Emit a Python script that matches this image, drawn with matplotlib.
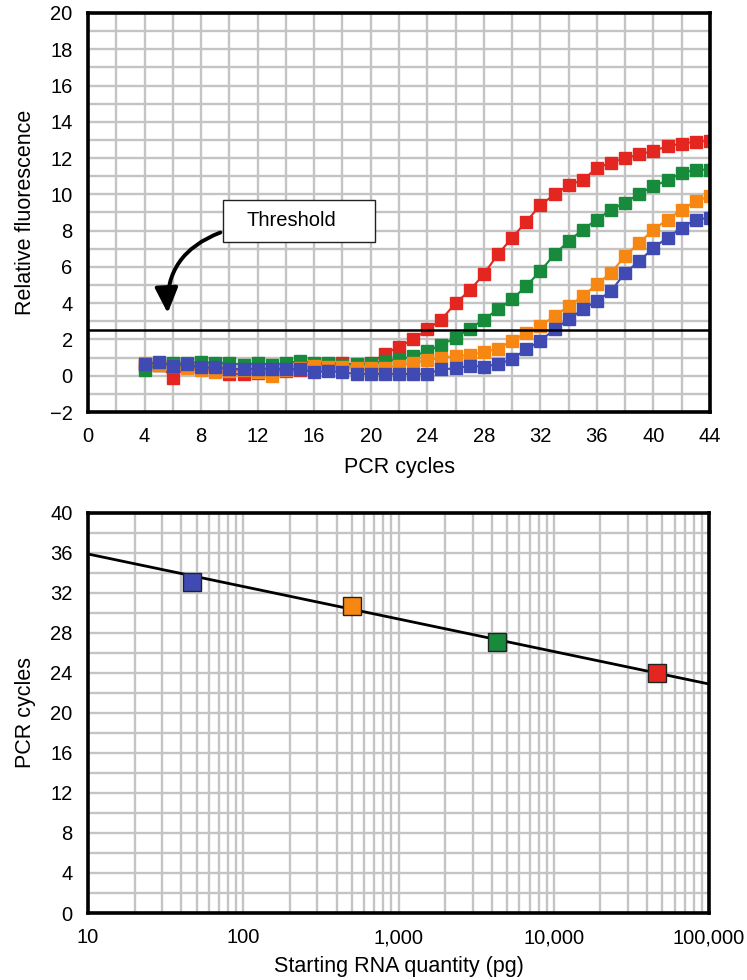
import matplotlib
matplotlib.use("Agg")
import matplotlib.pyplot as plt
import numpy as np
from matplotlib.patches import FancyArrowPatch, Rectangle
from matplotlib.ticker import MultipleLocator, FixedLocator, NullFormatter

plt.rcParams['font.family'] = ['Liberation Sans', 'DejaVu Sans']

# ---------------- data ----------------
cycles = list(range(4, 45))
red = [0.55, 0.6, -0.1, 0.5, 0.4, 0.3, 0.1, 0.1, 0.15, 0.2, 0.25, 0.3, 0.6, 0.65, 0.7, 0.6, 0.7,
       1.2, 1.6, 2.0, 2.55, 3.1, 4.0, 4.7, 5.6, 6.7, 7.6, 8.5, 9.4, 10.0, 10.5, 10.8, 11.45,
       11.75, 12.0, 12.2, 12.4, 12.65, 12.8, 12.9, 12.95]
green = [0.3, 0.6, 0.7, 0.7, 0.75, 0.7, 0.7, 0.6, 0.7, 0.6, 0.7, 0.8, 0.7, 0.7, 0.6, 0.65, 0.65,
         0.8, 0.9, 1.08, 1.35, 1.7, 2.1, 2.6, 3.1, 3.66, 4.21, 4.95, 5.77, 6.69, 7.42, 8.06, 8.61,
         9.16, 9.53, 10.04, 10.45, 10.78, 11.18, 11.36, 11.36]
orange = [0.7, 0.6, 0.55, 0.4, 0.3, 0.2, 0.25, 0.3, 0.2, 0.0, 0.3, 0.4, 0.55, 0.5, 0.5, 0.45, 0.4,
          0.45, 0.55, 0.7, 0.85, 1.0, 1.08, 1.15, 1.3, 1.5, 1.92, 2.38, 2.74, 3.29, 3.84, 4.39, 5.04,
          5.68, 6.6, 7.33, 8.06, 8.61, 9.16, 9.62, 9.9]
blue = [0.64, 0.73, 0.55, 0.64, 0.46, 0.46, 0.37, 0.37, 0.37, 0.37, 0.37, 0.37, 0.18, 0.28, 0.18,
        0.1, 0.1, 0.1, 0.1, 0.1, 0.1, 0.36, 0.4, 0.55, 0.5, 0.64, 0.91, 1.46, 1.92, 2.56, 3.11,
        3.66, 4.12, 4.67, 5.68, 6.32, 7.06, 7.61, 8.16, 8.61, 8.71]
threshold = 2.5

rna_qty = [47, 500, 4300, 46000]
ct_values = [33.1, 30.7, 27.1, 24.0]
fit_x = [10, 100000]
fit_y = [35.9, 22.9]
top_xticks = list(range(0, 45, 4))
top_yticks = list(range(-2, 21, 2))
bot_xticks = [10, 100, 1000, 10000, 100000]
bot_xlabels = ['10', '100', '1,000', '10,000', '100,000']
bot_yticks = list(range(0, 41, 4))

C_RED = '#E3261F'
C_GREEN = '#178A3C'
C_ORANGE = '#F68712'
C_BLUE = '#3F4AB3'
GRID = '#C4C4C4'

fig = plt.figure(figsize=(7.47, 9.80), dpi=100)
ax1 = fig.add_axes([88/747, 1-412/980, 622/747, 399/980])
ax2 = fig.add_axes([88/747, 1-913/980, 621/747, 400/980])

FS = 14.5
LFS = 15.5

def style(ax):
    for s in ax.spines.values():
        s.set_linewidth(2.6)
        s.set_color('black')
        s.set_zorder(10)
    ax.tick_params(which='both', length=0, labelsize=FS)
    ax.tick_params(axis='x', pad=11)
    ax.tick_params(axis='y', pad=11)
    ax.grid(True, which='both', color=GRID, linewidth=1.7, zorder=0)
    ax.set_axisbelow(True)

# ---------------- top chart ----------------
style(ax1)
ax1.set_xlim(0, 44)
ax1.set_ylim(-2, 20)
ax1.set_xticks(top_xticks)
ax1.xaxis.set_minor_locator(MultipleLocator(2))
ax1.set_yticks(top_yticks)
ax1.yaxis.set_minor_locator(MultipleLocator(1))
for series, col in [(red, C_RED), (green, C_GREEN), (orange, C_ORANGE), (blue, C_BLUE)]:
    ax1.plot(cycles, series, color=col, linewidth=1.5, marker='s', markersize=9.3,
             markeredgecolor=col, markerfacecolor=col, zorder=3)
ax1.axhline(threshold, color='black', linewidth=1.8, zorder=4)
ax1.set_xlabel('PCR cycles', fontsize=LFS, labelpad=8)
ax1.set_ylabel('Relative fluorescence', fontsize=LFS, labelpad=10)

# annotation box (drawn in data units of the top axes)
ax1.add_patch(Rectangle((9.55, 7.35), 10.75, 2.36, facecolor='white', edgecolor='#222222',
                        linewidth=1.0, zorder=6))
ax1.text(14.4, 8.55, 'Threshold', fontsize=14.5, ha='center', va='center', zorder=7)
arrow = FancyArrowPatch((9.55, 7.95), (5.65, 3.3), connectionstyle='arc3,rad=0.38',
                        arrowstyle='-|>,head_length=7,head_width=3.2', color='black',
                        linewidth=2.8, mutation_scale=2.2, zorder=6)
ax1.add_patch(arrow)

# ---------------- bottom chart ----------------
style(ax2)
ax2.set_xscale('log')
ax2.set_xlim(10, 100000)
ax2.set_ylim(0, 40)
ax2.set_xticks(bot_xticks)
ax2.set_xticklabels(bot_xlabels)
minor = [m * 10**d for d in range(1, 5) for m in range(2, 10)]
ax2.xaxis.set_minor_locator(FixedLocator(minor))
ax2.xaxis.set_minor_formatter(NullFormatter())
ax2.set_yticks(bot_yticks)
ax2.yaxis.set_minor_locator(MultipleLocator(2))
ax2.plot(fit_x, fit_y, color='black', linewidth=2.0, zorder=3)
for xq, yq, col in zip(rna_qty, ct_values, [C_BLUE, C_ORANGE, C_GREEN, C_RED]):
    ax2.plot([xq], [yq], marker='s', markersize=12.5, markerfacecolor=col,
             markeredgecolor='#222222', markeredgewidth=1.0, linestyle='none', zorder=4)
ax2.set_xlabel('Starting RNA quantity (pg)', fontsize=LFS, labelpad=6)
ax2.set_ylabel('PCR cycles', fontsize=LFS, labelpad=10)

fig.savefig('out.png', dpi=100)
